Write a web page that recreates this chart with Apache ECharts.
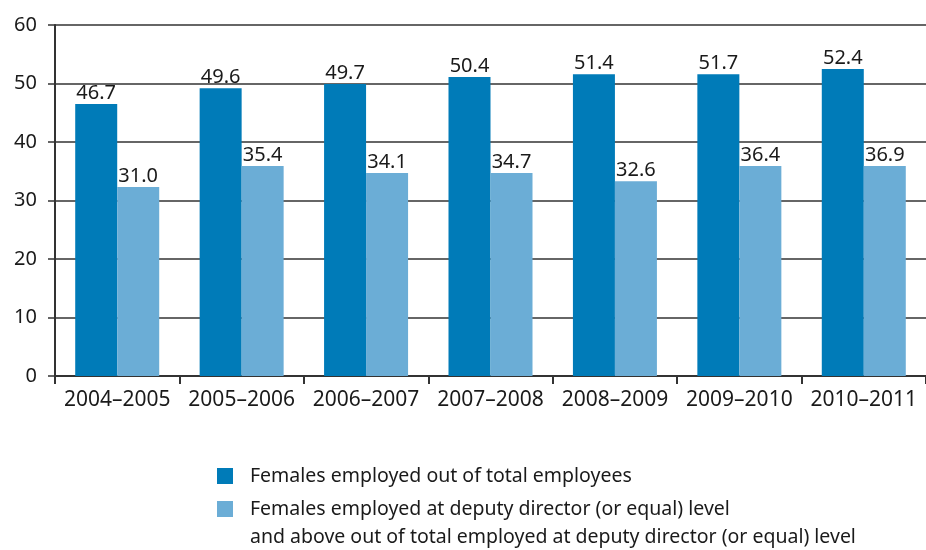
<!DOCTYPE html>
<html>
<head>
<meta charset="utf-8">
<script src="https://cdn.jsdelivr.net/npm/echarts@6/dist/echarts.min.js"></script>
<style>
  html, body { margin: 0; padding: 0; background: #fff; }
  #chart { width: 926px; height: 550px; }
</style>
</head>
<body>
<div id="chart"></div>
<script>
// categories and values
var years = ['2004–2005', '2005–2006', '2006–2007', '2007–2008', '2008–2009', '2009–2010', '2010–2011'];
// bar heights as drawn
var totalBars = [46.5, 49.2, 49.9, 51.1, 51.6, 51.6, 52.5];
var deputyBars = [32.3, 35.9, 34.7, 34.7, 33.3, 35.9, 35.9];
// printed value labels
var totalLabels = ['46.7', '49.6', '49.7', '50.4', '51.4', '51.7', '52.4'];
var deputyLabels = ['31.0', '35.4', '34.1', '34.7', '32.6', '36.4', '36.9'];
var yTicks = [0, 10, 20, 30, 40, 50, 60];

var nameTotal = 'Females employed out of total employees';
var nameDeputy = 'Females employed at deputy director (or equal) level';
var nameDeputyMore = 'and above out of total employed at deputy director (or equal) level';

var txt = '#1a1a1a';
var font = 'Noto Sans';

var myChart = echarts.init(document.getElementById('chart'));

var option = {
  animation: false,
  color: ['#007bb8', '#6badd6'],
  grid: { left: 55, top: 25, width: 880, height: 351 },
  legend: {
    orient: 'vertical',
    left: 217,
    top: 462,
    height: 200,
    width: 700,
    padding: 0,
    itemWidth: 16,
    itemHeight: 16,
    itemGap: 5,
    icon: 'rect',
    selectedMode: false,
    data: [nameTotal, nameDeputy],
    formatter: function (name) { return '{t|' + name + '}'; },
    textStyle: {
      color: txt, fontFamily: font, fontSize: 19.5, lineHeight: 28,
      rich: { t: { color: txt, fontFamily: font, fontSize: 19.5, lineHeight: 28, padding: [0, 0, 0, 12] } }
    }
  },
  graphic: [
    {
      type: 'text',
      left: 250,
      top: 527,
      style: { text: nameDeputyMore, fill: txt, font: '19.5px "Noto Sans"' }
    }
  ],
  xAxis: {
    type: 'category',
    data: years,
    axisLine: { lineStyle: { color: '#333', width: 2 } },
    axisTick: { show: true, length: 8, lineStyle: { color: '#333', width: 2 } },
    axisLabel: { interval: 0, color: txt, fontFamily: font, fontSize: 21, margin: 14 }
  },
  yAxis: {
    type: 'value',
    min: yTicks[0],
    max: yTicks[yTicks.length - 1],
    interval: 10,
    axisLine: { show: true, lineStyle: { color: '#333', width: 2 } },
    axisTick: { show: true, length: 7, lineStyle: { color: '#333', width: 1.5 } },
    axisLabel: { color: txt, fontFamily: font, fontSize: 20, margin: 18 },
    splitLine: { lineStyle: { color: '#333', width: 1.5 } }
  },
  series: [
    {
      name: nameTotal,
      type: 'bar',
      data: totalBars,
      barWidth: 42,
      barGap: '0%',
      label: {
        show: true,
        position: 'top',
        distance: 1,
        color: txt,
        fontFamily: font,
        fontSize: 20,
        formatter: function (p) { return totalLabels[p.dataIndex]; }
      }
    },
    {
      name: nameDeputy,
      type: 'bar',
      data: deputyBars,
      barWidth: 42,
      label: {
        show: true,
        position: 'top',
        distance: 1,
        color: txt,
        fontFamily: font,
        fontSize: 20,
        formatter: function (p) { return deputyLabels[p.dataIndex]; }
      }
    }
  ]
};

myChart.setOption(option);
</script>
</body>
</html>
